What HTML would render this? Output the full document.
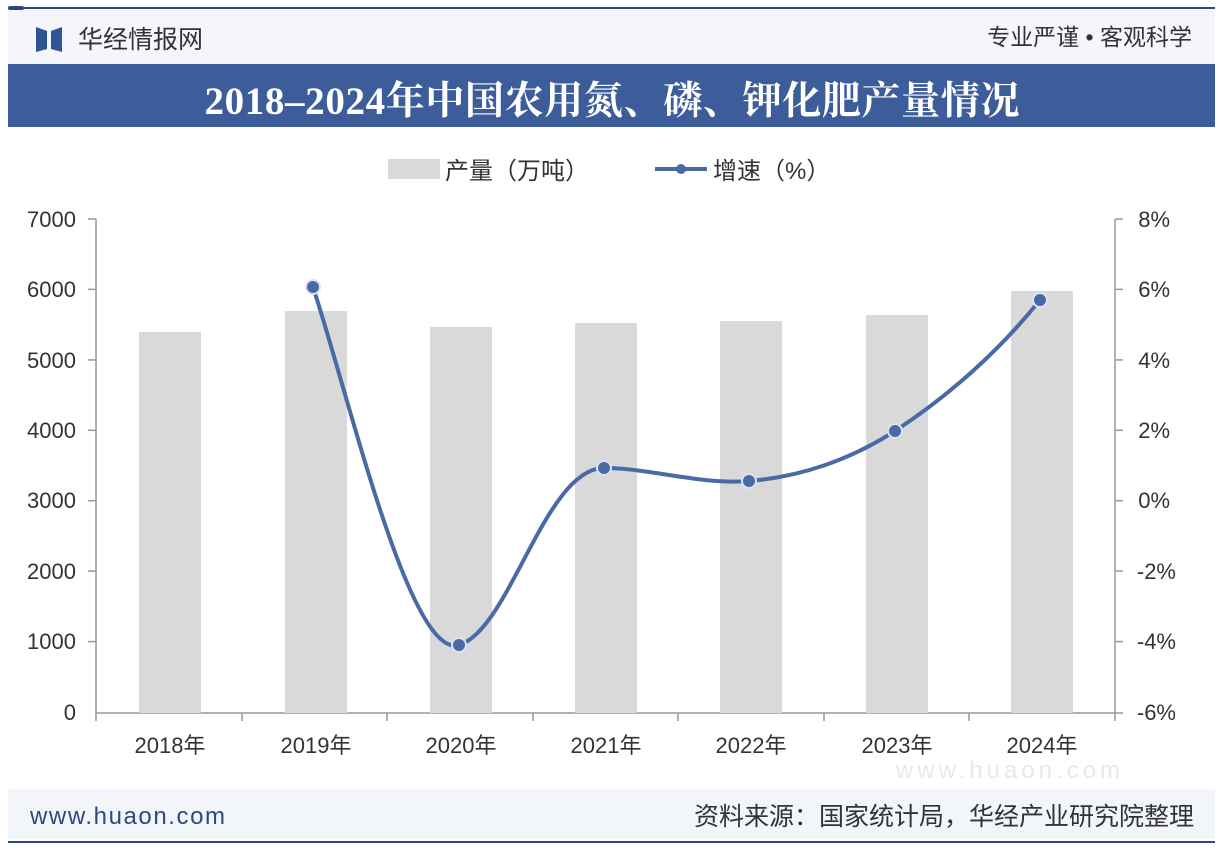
<!DOCTYPE html>
<html><head><meta charset="utf-8"><style>
body{margin:0;width:1222px;height:852px;background:#fff;overflow:hidden;font-family:"Liberation Sans","Noto Sans CJK SC",sans-serif;}
</style></head><body>
<svg width="1222" height="852" xmlns="http://www.w3.org/2000/svg" style="position:absolute;left:0;top:0">
<rect x="8" y="9" width="1207" height="55" fill="#f4f6fb"/>
<line x1="8" y1="8" x2="1215" y2="8" stroke="#2c4a80" stroke-width="2"/>
<rect x="8" y="6" width="16" height="4" rx="2" fill="#2c4a80"/>
<path d="M36 27 L47 31 L47 49 L36 52 Z" fill="#2f5596"/>
<path d="M62 27 L51 31 L51 49 L62 52 Z" fill="#2f5596"/>
<text x="78" y="48" font-size="25" fill="#333" font-family="Liberation Sans,Noto Sans CJK SC,sans-serif">华经情报网</text>
<text x="1192" y="45" font-size="23" fill="#333" text-anchor="end" font-family="Liberation Sans,Noto Sans CJK SC,sans-serif">专业严谨 • 客观科学</text>
<rect x="8" y="64" width="1207" height="63" fill="#3d5d9a"/>
<text x="612" y="114" font-size="39" font-weight="bold" fill="#fff" text-anchor="middle" textLength="815" font-family="Liberation Serif,Noto Serif CJK SC,serif">2018–2024年中国农用氮、磷、钾化肥产量情况</text>
<!-- legend -->
<rect x="388" y="159" width="52" height="20" fill="#d9d9d9"/>
<text x="445" y="179" font-size="24" fill="#333" font-family="Liberation Sans,Noto Sans CJK SC,sans-serif">产量（万吨）</text>
<line x1="655" y1="169" x2="707" y2="169" stroke="#4a6aa5" stroke-width="4"/>
<circle cx="681" cy="169" r="5" fill="#4a6aa5"/>
<text x="713" y="179" font-size="24" fill="#333" font-family="Liberation Sans,Noto Sans CJK SC,sans-serif">增速（%）</text>
<!-- axes -->
<line x1="96" y1="219" x2="96" y2="713" stroke="#999" stroke-width="1.5"/>
<line x1="1115" y1="219" x2="1115" y2="713" stroke="#999" stroke-width="1.5"/>
<line x1="96" y1="713" x2="1115" y2="713" stroke="#999" stroke-width="1.5"/>
<g stroke="#999" stroke-width="1.5">
<line x1="88" y1="219" x2="96" y2="219"/><line x1="88" y1="289.4" x2="96" y2="289.4"/><line x1="88" y1="359.9" x2="96" y2="359.9"/><line x1="88" y1="430.3" x2="96" y2="430.3"/><line x1="88" y1="500.7" x2="96" y2="500.7"/><line x1="88" y1="571.1" x2="96" y2="571.1"/><line x1="88" y1="641.6" x2="96" y2="641.6"/>
<line x1="1115" y1="219" x2="1123" y2="219"/><line x1="1115" y1="289.4" x2="1123" y2="289.4"/><line x1="1115" y1="359.9" x2="1123" y2="359.9"/><line x1="1115" y1="430.3" x2="1123" y2="430.3"/><line x1="1115" y1="500.7" x2="1123" y2="500.7"/><line x1="1115" y1="571.1" x2="1123" y2="571.1"/><line x1="1115" y1="641.6" x2="1123" y2="641.6"/><line x1="1115" y1="713" x2="1123" y2="713"/>
<line x1="96" y1="713" x2="96" y2="721"/><line x1="242" y1="713" x2="242" y2="721"/><line x1="387" y1="713" x2="387" y2="721"/><line x1="533" y1="713" x2="533" y2="721"/><line x1="678" y1="713" x2="678" y2="721"/><line x1="824" y1="713" x2="824" y2="721"/><line x1="969" y1="713" x2="969" y2="721"/><line x1="1115" y1="713" x2="1115" y2="721"/>
</g>
<g font-size="22" fill="#333" text-anchor="end">
<text x="76" y="227">7000</text><text x="76" y="297">6000</text><text x="76" y="368">5000</text><text x="76" y="438">4000</text><text x="76" y="508">3000</text><text x="76" y="579">2000</text><text x="76" y="649">1000</text><text x="76" y="720">0</text>
</g>
<g font-size="22" fill="#333" text-anchor="end">
<text x="1170" y="227">8%</text><text x="1170" y="297">6%</text><text x="1170" y="368">4%</text><text x="1170" y="438">2%</text><text x="1170" y="508">0%</text><text x="1176" y="579">-2%</text><text x="1176" y="649">-4%</text><text x="1176" y="720">-6%</text>
</g>
<g fill="#d9d9d9">
<rect x="139" y="332" width="62" height="381"/>
<rect x="285" y="311" width="62" height="402"/>
<rect x="430" y="327" width="62" height="386"/>
<rect x="575" y="323" width="62" height="390"/>
<rect x="720" y="321" width="62" height="392"/>
<rect x="866" y="315" width="62" height="398"/>
<rect x="1011" y="291" width="62" height="422"/>
</g>
<g font-size="22" fill="#333" text-anchor="middle" font-family="Liberation Sans,Noto Sans CJK SC,sans-serif">
<text x="170" y="753">2018年</text><text x="316" y="753">2019年</text><text x="461" y="753">2020年</text><text x="606" y="753">2021年</text><text x="751" y="753">2022年</text><text x="897" y="753">2023年</text><text x="1042" y="753">2024年</text>
</g>
<path d="M313 287 C350 400, 410 660, 459 645 C510 630, 545 468, 604 468 C650 468, 700 485, 749 481 C800 477, 850 460, 895 431 C950 395, 1000 350, 1040 300" fill="none" stroke="#4a6aa5" stroke-width="4"/>
<g fill="#4a6aa5" stroke="#dce4f2" stroke-width="2">
<circle cx="313" cy="287" r="7"/><circle cx="459" cy="645" r="7"/><circle cx="604" cy="468" r="7"/><circle cx="749" cy="481" r="7"/><circle cx="895" cy="431" r="7"/><circle cx="1040" cy="300" r="7"/>
</g>
<text x="1010" y="778" font-size="24" fill="#e4e8ef" text-anchor="middle" letter-spacing="4">www.huaon.com</text>
<rect x="8" y="789" width="1207" height="50" fill="#f2f5fa"/>
<text x="30" y="824" font-size="24" fill="#2c4a80" textLength="195">www.huaon.com</text>
<text x="1194" y="825" font-size="25" fill="#333" text-anchor="end" font-family="Liberation Sans,Noto Sans CJK SC,sans-serif">资料来源：国家统计局，华经产业研究院整理</text>
<line x1="8" y1="842" x2="1215" y2="842" stroke="#2c4a80" stroke-width="2"/>
</svg>
</body></html>
